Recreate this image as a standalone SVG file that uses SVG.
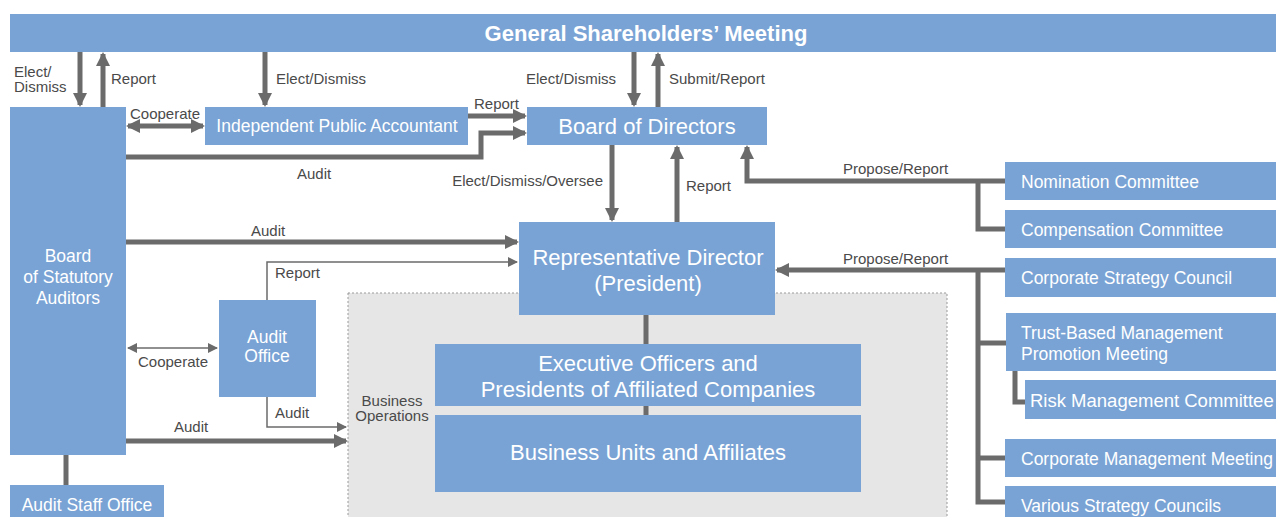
<svg xmlns="http://www.w3.org/2000/svg" width="1276" height="517" viewBox="0 0 1276 517">
<defs>
  <marker id="ah" viewBox="0 0 14 14" refX="12" refY="7" markerWidth="14" markerHeight="14" markerUnits="userSpaceOnUse" orient="auto-start-reverse">
    <path d="M0,0 L14,7 L0,14 Z" fill="#6b6b6b"/>
  </marker>
  <marker id="ahs" viewBox="0 0 10 10" refX="9" refY="5" markerWidth="10" markerHeight="10" markerUnits="userSpaceOnUse" orient="auto-start-reverse">
    <path d="M0,0 L10,5 L0,10 Z" fill="#6b6b6b"/>
  </marker>
</defs>
<style>
  .box { fill: #79a3d5; }
  .t { fill: #ffffff; font-family: "Liberation Sans", Arial, sans-serif; text-anchor: middle; }
  .tl { fill: #ffffff; font-family: "Liberation Sans", Arial, sans-serif; font-size: 17.5px; }
  .tl.big { font-size: 18.5px; }
  .lbl { fill: #4a4a4a; font-family: "Liberation Sans", Arial, sans-serif; font-size: 15px; }
  .thick { stroke: #6b6b6b; stroke-width: 5; fill: none; }
  .thin { stroke: #6b6b6b; stroke-width: 1.5; fill: none; }
</style>
<rect width="1276" height="517" fill="#ffffff"/>

<!-- Business operations area -->
<g id="business-operations">
  <rect x="348" y="293" width="599" height="230" fill="#e6e6e6" stroke="#9a9a9a" stroke-width="1" stroke-dasharray="2,2"/>
  <text class="lbl" x="392" y="406" text-anchor="middle">Business</text>
  <text class="lbl" x="392" y="421" text-anchor="middle">Operations</text>
</g>

<!-- Connectors -->
<g id="connectors">
  <!-- Shareholders to auditors and board -->
  <line class="thick" x1="80" y1="52" x2="80" y2="105" marker-end="url(#ah)"/>
  <line class="thick" x1="103" y1="107" x2="103" y2="54" marker-end="url(#ah)"/>
  <line class="thick" x1="265" y1="52" x2="265" y2="105" marker-end="url(#ah)"/>
  <line class="thick" x1="634" y1="52" x2="634" y2="105" marker-end="url(#ah)"/>
  <line class="thick" x1="658" y1="107" x2="658" y2="54" marker-end="url(#ah)"/>
  <!-- Cooperate BSA / IPA -->
  <line class="thick" x1="128" y1="126" x2="203" y2="126" marker-start="url(#ah)" marker-end="url(#ah)"/>
  <!-- IPA report to BoD -->
  <line class="thick" x1="468" y1="116" x2="525" y2="116" marker-end="url(#ah)"/>
  <!-- BSA audit to BoD -->
  <polyline class="thick" points="126,157 481,157 481,133 525,133" marker-end="url(#ah)"/>
  <!-- BoD / Representative Director -->
  <line class="thick" x1="612" y1="145" x2="612" y2="220" marker-end="url(#ah)"/>
  <line class="thick" x1="677" y1="222" x2="677" y2="147" marker-end="url(#ah)"/>
  <!-- Committees to BoD -->
  <polyline class="thick" points="1005,181 747,181 747,147" marker-end="url(#ah)"/>
  <polyline class="thick" points="978,181 978,229 1005,229"/>
  <!-- BSA audit to Rep Director -->
  <line class="thick" x1="126" y1="242" x2="517" y2="242" marker-end="url(#ah)"/>
  <!-- Councils to Rep Director -->
  <line class="thick" x1="1005" y1="270" x2="777" y2="270" marker-end="url(#ah)"/>
  <polyline class="thick" points="978,270 978,502 1005,502"/>
  <line class="thick" x1="978" y1="343" x2="1006" y2="343"/>
  <line class="thick" x1="978" y1="458" x2="1005" y2="458"/>
  <polyline class="thick" points="1015,371 1015,402 1025,402"/>
  <!-- Audit Office thin lines -->
  <polyline class="thin" points="267,300 267,262 517,262" marker-end="url(#ahs)"/>
  <line class="thin" x1="128" y1="348" x2="217" y2="348" marker-start="url(#ahs)" marker-end="url(#ahs)"/>
  <polyline class="thin" points="267,397 267,427 346,427" marker-end="url(#ahs)"/>
  <!-- BSA audit to business operations -->
  <line class="thick" x1="126" y1="441" x2="346" y2="441" marker-end="url(#ah)"/>
  <!-- BSA to Audit Staff Office -->
  <line class="thick" x1="66" y1="455" x2="66" y2="485"/>
  <!-- Rep Director down the executive chain -->
  <line class="thick" x1="646" y1="315" x2="646" y2="344"/>
  <line class="thick" x1="646" y1="406" x2="646" y2="415"/>
</g>

<!-- Connector labels -->
<g id="labels">
  <text class="lbl" x="14" y="77">Elect/</text>
  <text class="lbl" x="14" y="92">Dismiss</text>
  <text class="lbl" x="111" y="84">Report</text>
  <text class="lbl" x="276" y="84">Elect/Dismiss</text>
  <text class="lbl" x="130" y="119">Cooperate</text>
  <text class="lbl" x="474" y="109">Report</text>
  <text class="lbl" x="297" y="179">Audit</text>
  <text class="lbl" x="616" y="84" text-anchor="end">Elect/Dismiss</text>
  <text class="lbl" x="669" y="84">Submit/Report</text>
  <text class="lbl" x="603" y="186" text-anchor="end">Elect/Dismiss/Oversee</text>
  <text class="lbl" x="686" y="191">Report</text>
  <text class="lbl" x="843" y="174">Propose/Report</text>
  <text class="lbl" x="251" y="236">Audit</text>
  <text class="lbl" x="275" y="278">Report</text>
  <text class="lbl" x="843" y="264">Propose/Report</text>
  <text class="lbl" x="138" y="367">Cooperate</text>
  <text class="lbl" x="275" y="418">Audit</text>
  <text class="lbl" x="174" y="432">Audit</text>
</g>

<g id="shareholders">
  <rect class="box" x="10" y="14" width="1266" height="38"/>
  <text class="t" x="646" y="41" font-size="22" font-weight="bold">General Shareholders’ Meeting</text>
</g>

<g id="statutory-auditors">
  <rect class="box" x="10" y="107" width="116" height="348"/>
  <text class="t" x="68" y="262" font-size="17.5">Board</text>
  <text class="t" x="68" y="283" font-size="17.5">of Statutory</text>
  <text class="t" x="68" y="304" font-size="17.5">Auditors</text>
</g>

<g id="audit-staff-office">
  <rect class="box" x="10" y="485" width="154" height="40"/>
  <text class="t" x="87" y="511" font-size="17.5">Audit Staff Office</text>
</g>

<g id="public-accountant">
  <rect class="box" x="205" y="107" width="263" height="38"/>
  <text class="t" x="337" y="132" font-size="17.5">Independent Public Accountant</text>
</g>

<g id="board-of-directors">
  <rect class="box" x="527" y="107" width="240" height="38"/>
  <text class="t" x="647" y="134" font-size="22">Board of Directors</text>
</g>

<g id="representative-director">
  <rect class="box" x="519" y="222" width="256" height="93"/>
  <text class="t" x="648" y="265" font-size="22">Representative Director</text>
  <text class="t" x="648" y="291" font-size="22">(President)</text>
</g>

<g id="audit-office">
  <rect class="box" x="219" y="300" width="97" height="97"/>
  <text class="t" x="267" y="343" font-size="17.5">Audit</text>
  <text class="t" x="267" y="362" font-size="17.5">Office</text>
</g>

<g id="executive-officers">
  <rect class="box" x="435" y="344" width="426" height="62"/>
  <text class="t" x="648" y="371" font-size="22">Executive Officers and</text>
  <text class="t" x="648" y="397" font-size="22">Presidents of Affiliated Companies</text>
</g>

<g id="business-units">
  <rect class="box" x="435" y="415" width="426" height="77"/>
  <text class="t" x="648" y="460" font-size="22">Business Units and Affiliates</text>
</g>

<g id="nomination-committee">
  <rect class="box" x="1005" y="162" width="271" height="38"/>
  <text class="tl" x="1021" y="188">Nomination Committee</text>
</g>

<g id="compensation-committee">
  <rect class="box" x="1005" y="210" width="271" height="38"/>
  <text class="tl" x="1021" y="236">Compensation Committee</text>
</g>

<g id="corporate-strategy-council">
  <rect class="box" x="1005" y="258" width="271" height="39"/>
  <text class="tl" x="1021" y="284">Corporate Strategy Council</text>
</g>

<g id="trust-based-meeting">
  <rect class="box" x="1006" y="313" width="270" height="58"/>
  <text class="tl" x="1021" y="339">Trust-Based Management</text>
  <text class="tl" x="1021" y="360">Promotion Meeting</text>
</g>

<g id="risk-management-committee">
  <rect class="box" x="1025" y="380" width="251" height="39"/>
  <text class="tl big" x="1030" y="407">Risk Management Committee</text>
</g>

<g id="corporate-management-meeting">
  <rect class="box" x="1005" y="439" width="271" height="38"/>
  <text class="tl" x="1021" y="465">Corporate Management Meeting</text>
</g>

<g id="various-strategy-councils">
  <rect class="box" x="1005" y="486" width="271" height="40"/>
  <text class="tl" x="1021" y="512">Various Strategy Councils</text>
</g>
</svg>
